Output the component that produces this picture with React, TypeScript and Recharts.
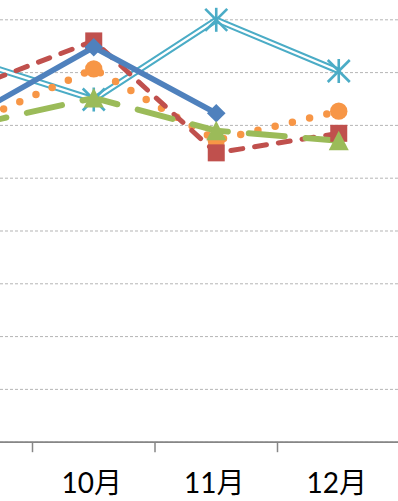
import { LineChart, Line, XAxis, YAxis, CartesianGrid } from "recharts";

// categories (the first one sits just off the left edge)
const months = ["9月", "10月", "11月", "12月"];

// series values
const blueSeries = [6.17, 7.48, 6.23, null];
const redSeries = [6.71, 7.6, 5.48, 5.85];
const orangeSeries = [6.04, 7.07, 5.72, 6.27];
const greenSeries = [6.0, 6.52, 5.9, 5.71];
const cyanSeries = [7.23, 6.49, 8.0, 7.03];

const yTicks = [0, 1, 2, 3, 4, 5, 6, 7, 8, 9];

const data = months.map((m, i) => ({
  month: m,
  s1: blueSeries[i],
  s2: redSeries[i],
  s3: orangeSeries[i],
  s4: greenSeries[i],
  s5: cyanSeries[i],
}));

const BLUE = "#4F81BD";
const RED = "#C0504D";
const ORANGE = "#F79646";
const GREEN = "#9BBB59";
const CYAN = "#4BACC6";
const AXIS = "#868686";

const empty = (p: any) => <g key={`e-${p.dataKey}-${p.index}`} />;

function Diamond(p: any) {
  if (p.cx == null || p.cy == null || p.value == null) return empty(p);
  const r = 9.3;
  const { cx, cy } = p;
  return (
    <polygon
      key={`dm-${p.index}`}
      points={`${cx},${cy - r} ${cx + r},${cy} ${cx},${cy + r} ${cx - r},${cy}`}
      fill={BLUE}
    />
  );
}

function Square(p: any) {
  if (p.cx == null || p.cy == null || p.value == null) return empty(p);
  const s = 17;
  return <rect key={`sq-${p.index}`} x={p.cx - s / 2} y={p.cy - s / 2} width={s} height={s} fill={RED} />;
}

function Circle(p: any) {
  if (p.cx == null || p.cy == null || p.value == null) return empty(p);
  return <circle key={`ci-${p.index}`} cx={p.cx} cy={p.cy} r={8.7} fill={ORANGE} />;
}

function Triangle(p: any) {
  if (p.cx == null || p.cy == null || p.value == null) return empty(p);
  const { cx, cy } = p;
  return (
    <polygon
      key={`tr-${p.index}`}
      points={`${cx},${cy - 10} ${cx + 10},${cy + 9.5} ${cx - 10},${cy + 9.5}`}
      fill={GREEN}
    />
  );
}

function Star(p: any) {
  if (p.cx == null || p.cy == null || p.value == null) return empty(p);
  const { cx, cy } = p;
  return (
    <g key={`st-${p.index}`} stroke={CYAN} strokeWidth={2.6}>
      <line x1={cx} y1={cy - 12} x2={cx} y2={cy + 12} />
      <line x1={cx - 11} y1={cy - 11} x2={cx + 11} y2={cy + 11} />
      <line x1={cx - 11} y1={cy + 11} x2={cx + 11} y2={cy - 11} />
    </g>
  );
}

function MonthTick(props: any) {
  const { x, y, payload } = props;
  const half = payload?.offset ?? 0;
  // the first category lies outside the cropped view, its label is not shown
  const showLabel = payload?.index !== 0;
  return (
    <g>
      <line x1={x - half} x2={x - half} y1={y - 10} y2={y} stroke={AXIS} strokeWidth={1.5} />
      {showLabel && (
        <text
          x={x - 2}
          y={y + 41}
          textAnchor="middle"
          fontSize={28}
          fill="#000"
          fontFamily="Lato, 'Noto Sans CJK JP', sans-serif"
        >
          {payload.value}
        </text>
      )}
    </g>
  );
}

export default function App() {
  return (
    <div
      style={{
        position: "absolute",
        left: 0,
        top: 0,
        width: 398,
        height: 501,
        overflow: "hidden",
        background: "#fff",
      }}
    >
      <div style={{ position: "absolute", left: -90, top: -33.5 }}>
        <LineChart width={490} height={535.2} data={data} margin={{ top: 0, right: 0, bottom: 0, left: 0 }}>
          <CartesianGrid vertical={false} stroke="#b5b5b5" strokeDasharray="3 2" />
          <XAxis
            dataKey="month"
            scale="band"
            height={60}
            axisLine={{ stroke: AXIS, strokeWidth: 1.8 }}
            tickLine={false}
            tickSize={10}
            tickMargin={0}
            tick={<MonthTick />}
            interval={0}
          />
          <YAxis hide domain={[0, 9]} ticks={yTicks} />
          {/* double (compound) line: wide cyan with a white core */}
          <Line dataKey="s5" stroke={CYAN} strokeWidth={6.5} dot={false} isAnimationActive={false} />
          <Line dataKey="s5" stroke="#fff" strokeWidth={2.4} dot={Star} isAnimationActive={false} />
          <Line
            dataKey="s3"
            stroke={ORANGE}
            strokeWidth={7.5}
            strokeDasharray="0 17.7"
            strokeLinecap="round"
            dot={Circle}
            isAnimationActive={false}
          />
          <Line
            dataKey="s2"
            stroke={RED}
            strokeWidth={5}
            strokeDasharray="12 12"
            strokeLinecap="round"
            dot={Square}
            isAnimationActive={false}
          />
          <Line dataKey="s1" stroke={BLUE} strokeWidth={5.5} dot={Diamond} isAnimationActive={false} />
          <Line
            dataKey="s4"
            stroke={GREEN}
            strokeWidth={6}
            strokeDasharray="36 21"
            strokeLinecap="round"
            dot={Triangle}
            isAnimationActive={false}
          />
        </LineChart>
      </div>
    </div>
  );
}
